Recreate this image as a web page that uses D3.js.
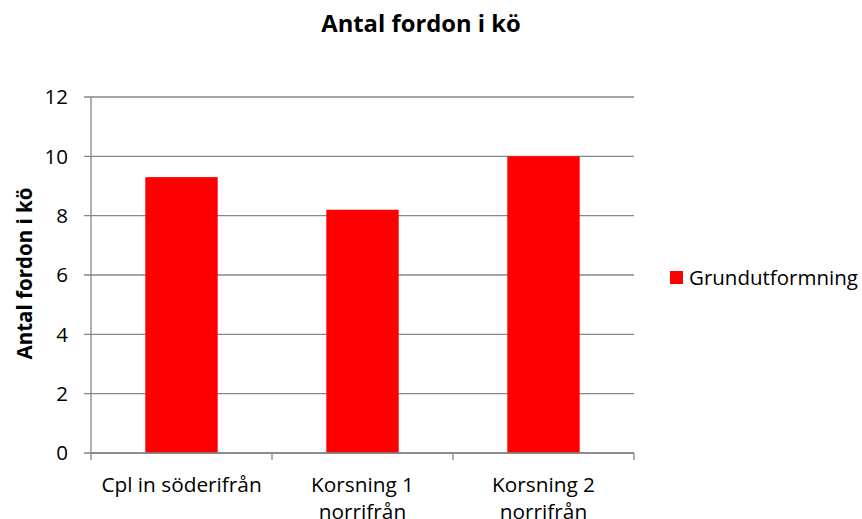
<!DOCTYPE html>
<html>
<head>
<meta charset="utf-8">
<script src="https://cdn.jsdelivr.net/npm/d3@7"></script>
<style>
  body { margin: 0; background: #fff; }
  text { font-family: 'Open Sans', sans-serif; fill: #000; }
</style>
</head>
<body>
<div id="chart"></div>
<script>
const categories = [['Cpl in söderifrån'], ['Korsning 1', 'norrifrån'], ['Korsning 2', 'norrifrån']];
const values = [9.3, 8.2, 10.0];
const yTicks = [0, 2, 4, 6, 8, 10, 12];
const seriesName = 'Grundutformning';
const title = 'Antal fordon i kö';
const yTitle = 'Antal fordon i kö';

const W = 862, H = 519;
const margin = {top: 97, right: 228, bottom: 66, left: 91};
const width = W - margin.left - margin.right;
const height = H - margin.top - margin.bottom;

const svg = d3.select('#chart').append('svg')
  .attr('width', W).attr('height', H);

const g = svg.append('g')
  .attr('transform', `translate(${margin.left},${margin.top})`);

const x = d3.scaleBand()
  .domain(d3.range(categories.length))
  .range([0, width])
  .paddingInner(0.6)
  .paddingOuter(0.3);

const y = d3.scaleLinear().domain([0, 12]).range([height, 0]);

// gridlines
g.append('g')
  .selectAll('line')
  .data(yTicks)
  .join('line')
  .attr('x1', -7).attr('x2', width)
  .attr('y1', (d) => y(d)).attr('y2', (d) => y(d))
  .attr('stroke', '#868686')
  .attr('stroke-width', 1.3);

// y labels
g.append('g')
  .selectAll('text')
  .data(yTicks)
  .join('text')
  .attr('x', -23)
  .attr('y', (d) => y(d))
  .attr('dy', '0.36em')
  .attr('text-anchor', 'end')
  .style('font-size', '20.5px')
  .text((d) => d);

// bars
g.selectAll('.bar')
  .data(values)
  .join('rect')
  .attr('class', 'bar')
  .attr('x', (d, i) => x(i))
  .attr('width', x.bandwidth())
  .attr('y', (d) => y(d))
  .attr('height', (d) => height - y(d))
  .attr('fill', '#ff0000');

// y axis line
g.append('line')
  .attr('x1', 0).attr('x2', 0)
  .attr('y1', 0).attr('y2', height)
  .attr('stroke', '#868686').attr('stroke-width', 1.3);

// x axis line + ticks at category boundaries
g.append('line')
  .attr('x1', 0).attr('x2', width)
  .attr('y1', height).attr('y2', height)
  .attr('stroke', '#868686').attr('stroke-width', 1.3);
const step = width / categories.length;
g.append('g')
  .selectAll('line')
  .data(d3.range(categories.length + 1))
  .join('line')
  .attr('x1', (d) => d * step).attr('x2', (d) => d * step)
  .attr('y1', height).attr('y2', height + 7)
  .attr('stroke', '#868686').attr('stroke-width', 1.3);

// category labels (second line is clipped by the bottom edge, as in the original)
const catText = g.append('g')
  .selectAll('text')
  .data(categories)
  .join('text')
  .attr('text-anchor', 'middle')
  .attr('transform', (d, i) => `translate(${x(i) + x.bandwidth() / 2},${height + 39})`)
  .style('font-size', '20.8px');
catText.selectAll('tspan')
  .data((d) => d)
  .join('tspan')
  .attr('x', 0)
  .attr('dy', (d, i) => (i === 0 ? 0 : 27))
  .text((d) => d);

// title
svg.append('text')
  .attr('x', 421).attr('y', 32)
  .attr('text-anchor', 'middle')
  .style('font-size', '23.8px')
  .style('font-weight', 'bold')
  .text(title);

// y title
svg.append('text')
  .attr('transform', `translate(32, 273.5) rotate(-90)`)
  .attr('text-anchor', 'middle')
  .style('font-size', '20.5px')
  .style('font-weight', 'bold')
  .text(yTitle);

// legend
const legend = svg.append('g').attr('transform', 'translate(670, 271)');
legend.append('rect').attr('width', 13).attr('height', 13).attr('fill', '#ff0000');
legend.append('text')
  .attr('x', 19).attr('y', 6.5).attr('dy', '0.36em')
  .style('font-size', '20.5px')
  .text(seriesName);
</script>
</body>
</html>
